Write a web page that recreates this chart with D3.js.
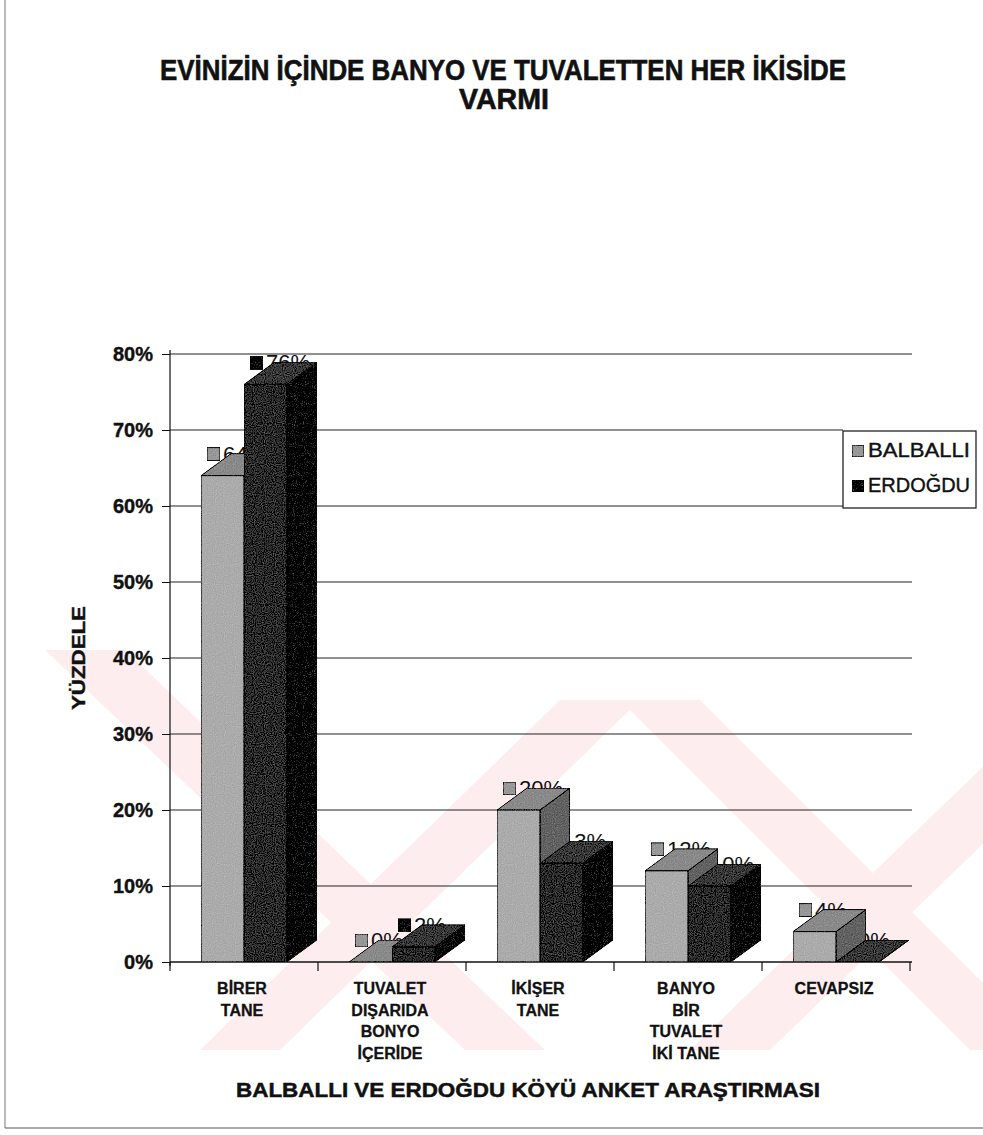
<!DOCTYPE html>
<html>
<head>
<meta charset="utf-8">
<script src="https://cdn.jsdelivr.net/npm/d3@7"></script>
<style>
  html, body { margin: 0; padding: 0; background: #fff; }
  svg { display: block; }
  text { font-family: "Liberation Sans", Arial, sans-serif; fill: #111; }
</style>
</head>
<body>
<svg id="chart" width="983" height="1135"></svg>
<script>
// ---- data ----
const categories = [
  ["BİRER", "TANE"],
  ["TUVALET", "DIŞARIDA", "BONYO", "İÇERİDE"],
  ["İKİŞER", "TANE"],
  ["BANYO", "BİR", "TUVALET", "İKİ TANE"],
  ["CEVAPSIZ"]
];
const series = ["BALBALLI", "ERDOĞDU"];
const balballi = [0.64, 0.00, 0.20, 0.12, 0.04];
const erdogdu  = [0.76, 0.02, 0.13, 0.10, 0.00];
const yTicks = [0, 0.1, 0.2, 0.3, 0.4, 0.5, 0.6, 0.7, 0.8];
const titleLines = ["EVİNİZİN İÇİNDE BANYO VE TUVALETTEN HER İKİSİDE", "VARMI"];
const xTitle = "BALBALLI VE ERDOĞDU KÖYÜ ANKET ARAŞTIRMASI";
const yTitle = "YÜZDELE";

const seriesValues = [balballi, erdogdu];
const catKeys = categories.map((c, i) => "c" + i);

const svg = d3.select("#chart");

// filters: scan grain
const defs = svg.append("defs");
const f = defs.append("filter").attr("id", "grain").attr("x", 0).attr("y", 0).attr("width", 1).attr("height", 1);
f.append("feTurbulence").attr("type", "fractalNoise").attr("baseFrequency", 0.9).attr("numOctaves", 1).attr("seed", 3).attr("result", "n");
f.append("feColorMatrix").attr("in", "n").attr("type", "saturate").attr("values", 0).attr("result", "g");
f.append("feComposite").attr("in", "SourceGraphic").attr("in2", "g").attr("operator", "arithmetic")
  .attr("k1", 0).attr("k2", 1).attr("k3", 0.4).attr("k4", -0.14).attr("result", "c");
f.append("feComposite").attr("in", "c").attr("in2", "SourceGraphic").attr("operator", "in");

// ---- watermark (very light pink diagonal bands) ----
const clipWm = defs.append("clipPath").attr("id", "wmclip");
clipWm.append("rect").attr("x", 40).attr("y", 650).attr("width", 943).attr("height", 400);
const wmG = svg.append("g").attr("clip-path", "url(#wmclip)");
const bands = [
  [[45, 650], [125, 650], [545, 1050], [465, 1050]],
  [[200, 1050], [280, 1050], [640, 700], [560, 700]],
  [[620, 700], [700, 700], [1050, 1050], [970, 1050]],
  [[690, 1050], [770, 1050], [1080, 750], [1000, 750]]
];
wmG.selectAll("polygon").data(bands).join("polygon")
  .attr("points", d => d.map(p => p.join(",")).join(" "))
  .attr("fill", "#fdedef");

// ---- scales ----
const y = d3.scaleLinear().domain([0, 0.8]).range([962, 354]);
const x = d3.scaleBand().domain(catKeys).range([170, 910]).padding(0);
const inner = d3.scaleBand().domain(series).range([31, 117]).padding(0);
const DX = 30, DY = -22;
const plotRight = 912;

// ---- frame ----
svg.append("line").attr("x1", 5).attr("x2", 5).attr("y1", 0).attr("y2", 1128).attr("stroke", "#777").attr("stroke-width", 1);
svg.append("line").attr("x1", 5).attr("x2", 983).attr("y1", 1128).attr("y2", 1128).attr("stroke", "#555").attr("stroke-width", 1.2);

// ---- title ----
svg.append("text").attr("x", 503).attr("y", 80).attr("text-anchor", "middle")
  .attr("font-size", 29).attr("font-weight", "bold").attr("textLength", 686).attr("lengthAdjust", "spacingAndGlyphs")
  .attr("stroke", "#111").attr("stroke-width", 0.6)
  .text(titleLines[0]);
svg.append("text").attr("x", 504).attr("y", 109).attr("text-anchor", "middle")
  .attr("font-size", 29).attr("font-weight", "bold").attr("textLength", 90).attr("lengthAdjust", "spacingAndGlyphs")
  .attr("stroke", "#111").attr("stroke-width", 0.6)
  .text(titleLines[1]);

// ---- gridlines ----
svg.append("g").selectAll("line").data(yTicks.slice(1)).join("line")
  .attr("x1", 170).attr("x2", d => (d === 0.7 || d === 0.6) ? 843 : plotRight)
  .attr("y1", d => y(d)).attr("y2", d => y(d))
  .attr("stroke", "#222").attr("stroke-width", 1);

// ---- y axis ----
const yAxis = d3.axisLeft(y).tickValues(yTicks).tickFormat(d3.format(".0%")).tickSize(8).tickPadding(9);
const gy = svg.append("g").attr("transform", "translate(170,0)").call(yAxis);
gy.select(".domain").attr("stroke", "#111").attr("stroke-width", 1.2).attr("d", "M0,350V966");
gy.selectAll(".tick line").attr("stroke", "#111");
gy.selectAll(".tick text").attr("font-size", 20).attr("font-weight", "bold")
  .attr("font-family", "'Liberation Sans', Arial, sans-serif").attr("fill", "#111")
  .attr("stroke", "#111").attr("stroke-width", 0.4);

// ---- x axis ----
const bounds = catKeys.map(k => x(k)).concat([x.range()[1]]);
svg.append("line").attr("x1", 170).attr("x2", plotRight).attr("y1", y(0)).attr("y2", y(0)).attr("stroke", "#111").attr("stroke-width", 1.3);
svg.append("g").selectAll("line").data(bounds).join("line")
  .attr("x1", d => d).attr("x2", d => d).attr("y1", y(0)).attr("y2", y(0) + 9)
  .attr("stroke", "#111").attr("stroke-width", 1.2);

const xl = svg.append("g");
categories.forEach((lines, i) => {
  const cx = x(catKeys[i]) + x.bandwidth() / 2 - 2;
  const t = xl.append("text").attr("text-anchor", "middle").attr("font-size", 16).attr("font-weight", "bold")
    .attr("stroke", "#111").attr("stroke-width", 0.3);
  lines.forEach((ln, j) => {
    t.append("tspan").attr("x", cx).attr("y", 994 + j * 21.5).text(ln);
  });
});

// x title
svg.append("text").attr("x", 528).attr("y", 1097).attr("text-anchor", "middle")
  .attr("font-size", 21).attr("font-weight", "bold").attr("textLength", 584).attr("lengthAdjust", "spacingAndGlyphs")
  .attr("stroke", "#111").attr("stroke-width", 0.5)
  .text(xTitle);

// y title
svg.append("text").attr("transform", "translate(85,658) rotate(-90)").attr("text-anchor", "middle")
  .attr("font-size", 19).attr("font-weight", "bold").attr("textLength", 104).attr("lengthAdjust", "spacingAndGlyphs")
  .attr("stroke", "#111").attr("stroke-width", 0.4)
  .text(yTitle);

// ---- styles ----
const styles = {
  "BALBALLI": { front: "#b2b2b2", top: "#939393", side: "#707070", key: "#a0a0a0" },
  "ERDOĞDU":  { front: "#474747", top: "#505050", side: "#262626", key: "#2c2c2c" }
};

// ---- data labels (behind bars) ----
const labG = svg.append("g");
const barG = svg.append("g");
catKeys.forEach((k, i) => {
  series.forEach((s, si) => {
    const v = seriesValues[si][i];
    const fl = x(k) + inner(s);
    const ft = y(v);
    labG.append("rect").attr("x", fl + 6).attr("y", ft - 28).attr("width", 13).attr("height", 13)
      .attr("fill", styles[s].key).attr("stroke", "#111").attr("stroke-width", 1).attr("filter", "url(#grain)");
    labG.append("text").attr("x", fl + 22).attr("y", ft - 14).attr("font-size", 22)
      .text(d3.format(".0%")(v));
  });
});

// ---- 3D bars ----
catKeys.forEach((k, i) => {
  series.forEach((s, si) => {
    const v = seriesValues[si][i];
    const fl = x(k) + inner(s);
    const fr = fl + inner.bandwidth();
    const ft = y(v);
    const fb = y(0);
    const st = styles[s];
    const g = barG.append("g");
    g.append("polygon")
      .attr("points", [[fr, ft], [fr + DX, ft + DY], [fr + DX, fb + DY], [fr, fb]].map(p => p.join(",")).join(" "))
      .attr("fill", st.side).attr("stroke", "#000").attr("stroke-width", 1).attr("filter", "url(#grain)");
    g.append("polygon")
      .attr("points", [[fl, ft], [fl + DX, ft + DY], [fr + DX, ft + DY], [fr, ft]].map(p => p.join(",")).join(" "))
      .attr("fill", st.top).attr("stroke", "#000").attr("stroke-width", 1).attr("filter", "url(#grain)");
    if (fb - ft > 0.5) {
      g.append("rect").attr("x", fl).attr("y", ft).attr("width", fr - fl).attr("height", fb - ft)
        .attr("fill", st.front).attr("stroke", "#000").attr("stroke-width", 1).attr("filter", "url(#grain)");
    }
  });
});

// ---- legend ----
const lg = svg.append("g");
lg.append("rect").attr("x", 843).attr("y", 431).attr("width", 133).attr("height", 77)
  .attr("fill", "#fff").attr("stroke", "#111").attr("stroke-width", 1.2);
series.forEach((s, si) => {
  const yy = 457 + si * 35;
  lg.append("rect").attr("x", 852).attr("y", yy - 12).attr("width", 12).attr("height", 12)
    .attr("fill", styles[s].key).attr("stroke", "#111").attr("filter", "url(#grain)");
  lg.append("text").attr("x", 868).attr("y", yy).attr("font-size", 20)
    .attr("stroke", "#111").attr("stroke-width", 0.4)
    .attr("textLength", 102).attr("lengthAdjust", "spacingAndGlyphs").text(s);
});
</script>
</body>
</html>
